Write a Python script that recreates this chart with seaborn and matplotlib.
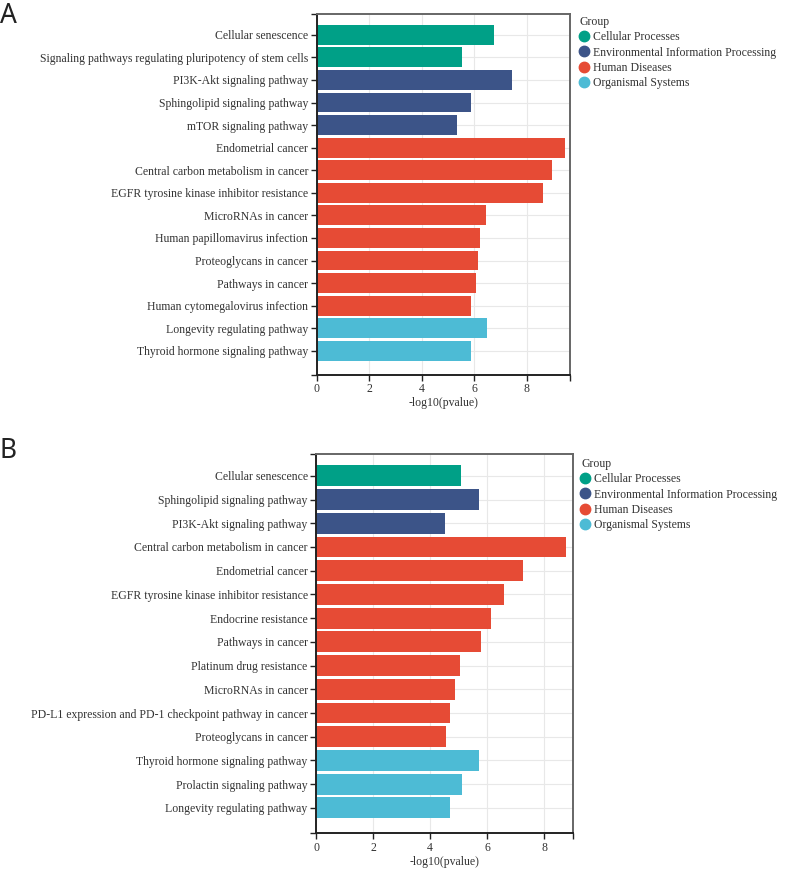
import matplotlib
matplotlib.use("Agg")
import matplotlib.pyplot as plt
from matplotlib.lines import Line2D
import seaborn as sns
import pandas as pd

# panel A
terms_a = ['Cellular senescence',
           'Signaling pathways regulating pluripotency of stem cells',
           'PI3K-Akt signaling pathway',
           'Sphingolipid signaling pathway',
           'mTOR signaling pathway',
           'Endometrial cancer',
           'Central carbon metabolism in cancer',
           'EGFR tyrosine kinase inhibitor resistance',
           'MicroRNAs in cancer',
           'Human papillomavirus infection',
           'Proteoglycans in cancer',
           'Pathways in cancer',
           'Human cytomegalovirus infection',
           'Longevity regulating pathway',
           'Thyroid hormone signaling pathway']
values_a = [6.77, 5.54, 7.44, 5.88, 5.33, 9.45, 8.98, 8.62, 6.44, 6.23,
            6.14, 6.08, 5.89, 6.50, 5.88]
groups_a = ['Cellular Processes'] * 2 + ['Environmental Information Processing'] * 3 + \
           ['Human Diseases'] * 8 + ['Organismal Systems'] * 2

# panel B
terms_b = ['Cellular senescence',
           'Sphingolipid signaling pathway',
           'PI3K-Akt signaling pathway',
           'Central carbon metabolism in cancer',
           'Endometrial cancer',
           'EGFR tyrosine kinase inhibitor resistance',
           'Endocrine resistance',
           'Pathways in cancer',
           'Platinum drug resistance',
           'MicroRNAs in cancer',
           'PD-L1 expression and PD-1 checkpoint pathway in cancer',
           'Proteoglycans in cancer',
           'Thyroid hormone signaling pathway',
           'Prolactin signaling pathway',
           'Longevity regulating pathway']
values_b = [5.08, 5.71, 4.54, 8.76, 7.27, 6.60, 6.13, 5.77, 5.06, 4.87,
            4.70, 4.55, 5.70, 5.12, 4.70]
groups_b = ['Cellular Processes'] + ['Environmental Information Processing'] * 2 + \
           ['Human Diseases'] * 9 + ['Organismal Systems'] * 3

group_names = ['Cellular Processes', 'Environmental Information Processing',
               'Human Diseases', 'Organismal Systems']
group_colors = ['#00A087', '#3C5488', '#E64B35', '#4DBBD5']
palette = dict(zip(group_names, group_colors))

sns.set_theme(style="white")
plt.rcParams['font.family'] = ['Liberation Serif', 'DejaVu Serif']

fig = plt.figure(figsize=(7.92, 8.77), dpi=100)
W, H = 792, 877


def draw_panel(box, terms, values, groups, xmax, letter, letter_y, leg_xy):
    left, top, right, bottom = box
    ax = fig.add_axes([left / W, 1 - bottom / H, (right - left) / W, (bottom - top) / H])
    df = pd.DataFrame({'term': terms, 'value': values, 'group': groups})
    ax.set_axisbelow(True)
    sns.barplot(data=df, y='term', x='value', hue='group', palette=palette,
                hue_order=group_names, dodge=False, width=0.88, linewidth=0,
                saturation=1, legend=False, ax=ax)
    n = len(terms)
    ax.set_xlim(0, xmax)
    ax.set_ylim(n - 1 + 1.07, -0.92)
    ax.set_xticks([0, 2, 4, 6, 8])
    ax.grid(True, color='#e8e8e8', linewidth=0.8)
    # d3-like outer ticks at the ends of the domain
    ax.set_yticks([n - 1 + 1.07, -0.92], minor=True)
    ax.set_xticks([xmax], minor=True)
    ax.tick_params(axis='both', which='both', direction='out', length=4,
                   width=1.0, color='#222222', labelsize=8.5, labelcolor='#333333', pad=2)
    ax.tick_params(axis='both', which='minor', labelleft=False, labelbottom=False)
    ax.tick_params(left=True, bottom=True)
    ax.tick_params(axis='both', which='minor', left=True, bottom=True)
    ax.set_ylabel('')
    ax.set_xlabel('-log10(pvalue)', fontsize=8.5, color='#333333', labelpad=1.5)
    for side in ['left', 'bottom']:
        ax.spines[side].set_color('#222222')
        ax.spines[side].set_linewidth(1.4)
    for side in ['top', 'right']:
        ax.spines[side].set_color('#666666')
        ax.spines[side].set_linewidth(1.4)

    handles = [Line2D([0], [0], marker='o', linestyle='', markersize=7.5,
                      markerfacecolor=c, markeredgecolor=c) for c in group_colors]
    leg = ax.legend(handles, group_names, title='Group', loc='upper left',
                    bbox_to_anchor=(leg_xy[0] / W, 1 - leg_xy[1] / H),
                    bbox_transform=fig.transFigure, frameon=False,
                    fontsize=8.5, title_fontsize=8.5, handlelength=0.7,
                    handletextpad=0.4, labelspacing=0.28, borderpad=0,
                    borderaxespad=0, alignment='left')
    leg.get_title().set_color('#333333')
    for t in leg.get_texts():
        t.set_color('#333333')

    fig.text(0.0, 1 - letter_y / H, letter, fontsize=19, family='Noto Sans',
             fontweight='light', color='#222222', va='center', ha='left')
    return ax


draw_panel((316.7, 14, 570, 375), terms_a, values_a, groups_a, 9.65, 'A', 16, (580, 16))
draw_panel((316, 454, 572.7, 833.3), terms_b, values_b, groups_b, 9.0, 'B', 451, (581, 458))

fig.savefig('out.png', dpi=100)
